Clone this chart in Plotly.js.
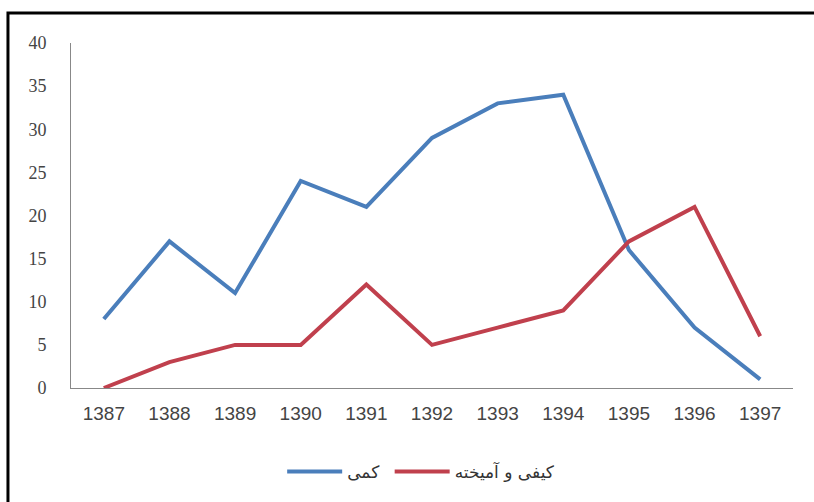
<!DOCTYPE html>
<html>
<head>
<meta charset="utf-8">
<script src="https://cdn.plot.ly/plotly-3.0.1.min.js"></script>
<style>html,body{margin:0;padding:0;background:#fff;}#chart{width:814px;height:502px;}</style>
</head>
<body>
<div id="chart"></div>
<script>
const years = ['1387','1388','1389','1390','1391','1392','1393','1394','1395','1396','1397'];
const quantitative = [8, 17, 11, 24, 21, 29, 33, 34, 16, 7, 1];
const qualitativeMixed = [0, 3, 5, 5, 12, 5, 7, 9, 17, 21, 6];
const seriesNames = ['کمی', 'کیفی و آمیخته'];

const traces = [
  {x: years, y: quantitative, name: seriesNames[0] + '\u00a0', type: 'scatter', mode: 'lines',
   line: {color: '#4A7EBB', width: 4}},
  {x: years, y: qualitativeMixed, name: seriesNames[1], type: 'scatter', mode: 'lines',
   line: {color: '#C0404D', width: 4}}
];

const layout = {
  width: 814, height: 502,
  margin: {l: 71, r: 21, t: 43, b: 114},
  paper_bgcolor: '#fff', plot_bgcolor: '#fff',
  showlegend: true,
  legend: {orientation: 'h', x: 0.485, y: -0.243, xanchor: 'center', yanchor: 'middle',
           font: {family: 'DejaVu Sans', size: 17, color: '#333'}, itemwidth: 55},
  xaxis: {type: 'category', range: [-0.5, 10.5], showgrid: false, showline: true, linecolor: '#888', linewidth: 1,
          ticks: '', ticklabelstandoff: 8,
          tickfont: {family: '"Liberation Sans Narrow", "Arial Narrow", "Liberation Sans"', size: 19, color: '#444'},
          zeroline: false},
  yaxis: {range: [0, 40], dtick: 5, showgrid: false, showline: true, linecolor: '#888', linewidth: 1,
          ticks: '', ticklabelstandoff: 20,
          tickfont: {family: '"Liberation Serif", "Times New Roman", serif', size: 18, color: '#444'},
          zeroline: false},
  shapes: [
    {type: 'rect', xref: 'paper', yref: 'paper', x0: -0.0873, x1: 1.2, y0: -0.5, y1: 1.087,
     line: {color: '#000', width: 3}, fillcolor: 'rgba(0,0,0,0)', layer: 'above'}
  ]
};

Plotly.newPlot('chart', traces, layout, {displayModeBar: false, staticPlot: true});
</script>
</body>
</html>
